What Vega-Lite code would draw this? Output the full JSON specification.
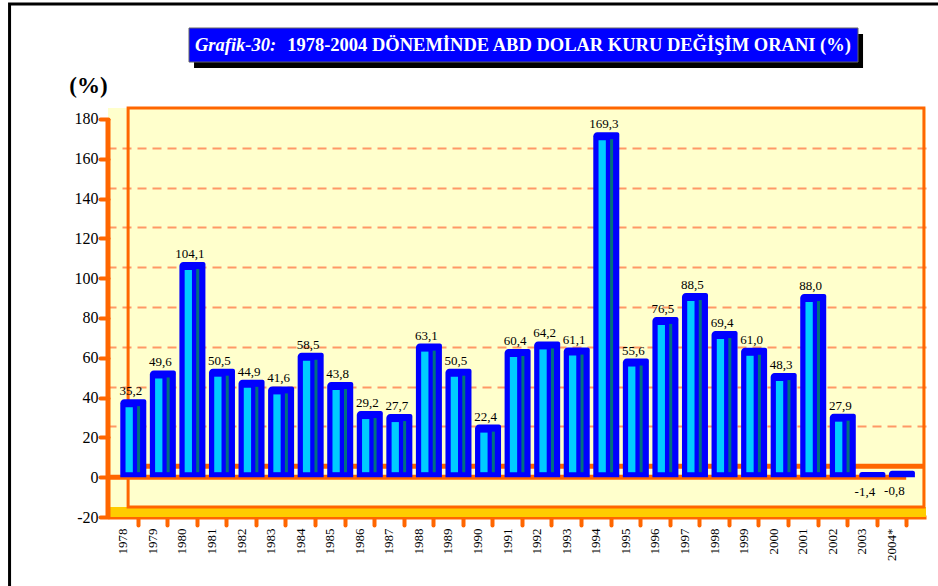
{
  "$schema": "https://vega.github.io/schema/vega-lite/v6.json",
  "width": 818,
  "height": 489,
  "autosize": {"type": "none"},
  "padding": {"left": 108, "top": 28, "right": 12, "bottom": 69},
  "background": "white",
  "config": {
    "font": "Liberation Serif",
    "view": {"fill": "#FFFFCC", "stroke": null},
    "locale": {"number": {"decimal": ",", "thousands": ".", "grouping": [3], "currency": ["", ""], "minus": "-"}},
    "text": {"font": "Liberation Serif"},
    "scale": {"continuousPadding": 0},
    "axis": {"labelFont": "Liberation Serif", "titleFont": "Liberation Serif"},
    "axisX": {"labelOverlap": false, "labelFont": "Liberation Serif", "labelFontSize": 13, "labelColor": "black"},
    "axisY": {"labelFont": "Liberation Serif", "labelFontSize": 16, "labelColor": "black"}
  },
  "data": {
    "values": [
      {"year": 1978, "value": 35.2}, {"year": 1979, "value": 49.6}, {"year": 1980, "value": 104.1},
      {"year": 1981, "value": 50.5}, {"year": 1982, "value": 44.9}, {"year": 1983, "value": 41.6},
      {"year": 1984, "value": 58.5}, {"year": 1985, "value": 43.8}, {"year": 1986, "value": 29.2},
      {"year": 1987, "value": 27.7}, {"year": 1988, "value": 63.1}, {"year": 1989, "value": 50.5},
      {"year": 1990, "value": 22.4}, {"year": 1991, "value": 60.4}, {"year": 1992, "value": 64.2},
      {"year": 1993, "value": 61.1}, {"year": 1994, "value": 169.3}, {"year": 1995, "value": 55.6},
      {"year": 1996, "value": 76.5}, {"year": 1997, "value": 88.5}, {"year": 1998, "value": 69.4},
      {"year": 1999, "value": 61.0}, {"year": 2000, "value": 48.3}, {"year": 2001, "value": 88.0},
      {"year": 2002, "value": 27.9}, {"year": 2003, "value": -1.4}, {"year": 2004, "value": -0.8}
    ]
  },
  "resolve": {"scale": {"y": "independent"}},
  "layer": [
    {
      "data": {"values": [{}]},
      "mark": {"type": "rule", "opacity": 0},
      "encoding": {
        "y": {"datum": 0, "type": "quantitative",
          "scale": {"domain": [-25.5, 220.2], "nice": false, "zero": false},
          "axis": {"orient": "right", "grid": true, "values": [20, 40, 60, 80, 100, 120, 140, 160],
            "labels": false, "ticks": false, "domain": false, "title": null,
            "gridDash": [9, 6], "gridColor": "#FF9966", "gridWidth": 2, "gridOpacity": 1}}
      }
    },
    {
      "layer": [
        {
          "mark": {"type": "rect", "fill": "white"},
          "encoding": {
            "x": {"field": "year", "type": "quantitative",
              "scale": {"domain": [1977.5, 2005.17], "nice": false, "zero": false, "padding": 0},
              "axis": {"values": [1978, 1979, 1980, 1981, 1982, 1983, 1984, 1985, 1986, 1987, 1988, 1989, 1990, 1991, 1992, 1993, 1994, 1995, 1996, 1997, 1998, 1999, 2000, 2001, 2002, 2003, 2004],
                "tickCount": 27, "tickMinStep": 1,
                "labelExpr": "datum.value == 2004 ? '2004*' : (datum.value > 2004 ? '' : '' + datum.value)",
                "labelAngle": 270, "labelPadding": 3, "labelOverlap": false, "labelBound": false, "labelFlush": false,
                "labelFont": "Liberation Serif", "labelFontSize": 13,
                "tickColor": "#FF6600", "tickWidth": 4, "tickSize": 8, "tickCap": "round", "tickOffset": 14.8, "labelOffset": -14.8,
                "domainColor": "#FF6600", "domainWidth": 4, "grid": false, "title": null}},
            "y": {"datum": 185.5, "type": "quantitative", "scale": {"domain": [-20, 225.7], "nice": false, "zero": false},
              "axis": {"orient": "left", "values": [-20, 0, 20, 40, 60, 80, 100, 120, 140, 160, 180],
                "domain": false, "grid": false, "format": "d",
                "labelFont": "Liberation Serif", "labelFontSize": 16,
                "tickColor": "#FF6600", "tickWidth": 4, "tickSize": 8, "tickCap": "round", "labelPadding": 2,
                "title": "(%)", "titleAngle": 0, "titleFont": "Liberation Serif", "titleFontSize": 23, "titleFontWeight": "bold",
                "titleColor": "black", "titleX": -20, "titleY": 57, "titleAlign": "center", "titleBaseline": "middle"}},
            "y2": {"datum": 226}
          },
          "transform": [{"filter": "datum.year == 1978"}]
        },
        {
          "data": {"values": [{}]},
          "mark": {"type": "rect", "fill": "white"},
          "encoding": {
            "x": {"datum": 1977.5, "type": "quantitative"},
            "x2": {"datum": 2005.17},
            "y": {"datum": 185.5, "type": "quantitative"},
            "y2": {"datum": 226}
          }
        },
        {
          "data": {"values": [{}]},
          "mark": {"type": "rect", "fill": "#FFCC00"},
          "encoding": {
            "x": {"datum": 1977.5, "type": "quantitative"},
            "x2": {"datum": 2005.17},
            "y": {"datum": -20, "type": "quantitative"},
            "y2": {"datum": -15}
          }
        },
        {
          "data": {"values": [{}]},
          "mark": {"type": "rect", "fill": null, "fillOpacity": 0, "stroke": "#FF6600", "strokeWidth": 3},
          "encoding": {
            "x": {"datum": 1978.18, "type": "quantitative"},
            "x2": {"datum": 2005.1},
            "y": {"datum": -15, "type": "quantitative"},
            "y2": {"datum": 185.5}
          }
        },
        {
          "data": {"values": [{}]},
          "mark": {"type": "rule", "stroke": "#FF6600", "strokeWidth": 5},
          "encoding": {
            "x": {"datum": 1978.18, "type": "quantitative"},
            "x2": {"datum": 2005.1},
            "y": {"datum": 5.5, "type": "quantitative"}
          }
        },
        {
          "data": {"values": [{}]},
          "mark": {"type": "rule", "stroke": "#FF6600", "strokeWidth": 5},
          "encoding": {
            "x": {"datum": 1977.5, "type": "quantitative"},
            "x2": {"datum": 2004.5},
            "y": {"datum": 0, "type": "quantitative"}
          }
        },
        {
          "data": {"values": [{}]},
          "mark": {"type": "rule", "stroke": "#FF6600", "strokeWidth": 5},
          "encoding": {
            "x": {"datum": 1977.5, "type": "quantitative"},
            "y": {"datum": -20, "type": "quantitative"},
            "y2": {"datum": 180}
          }
        },
        {
          "mark": {"type": "bar", "width": 26, "xOffset": 10.5, "yOffset": -8, "fill": "#0000FF", "cornerRadiusTopLeft": 4, "cornerRadiusTopRight": 2},
          "encoding": {
            "x": {"field": "year", "type": "quantitative"},
            "y": {"field": "value", "type": "quantitative"},
            "y2": {"datum": 0}
          }
        },
        {
          "transform": [{"filter": "datum.value > 0"}],
          "mark": {"type": "bar", "width": 7.3, "xOffset": 6.4, "y2Offset": -5, "fill": "#00CCFF"},
          "encoding": {
            "x": {"field": "year", "type": "quantitative"},
            "y": {"field": "value", "type": "quantitative"},
            "y2": {"datum": 0}
          }
        },
        {
          "transform": [{"filter": "datum.value > 0"}],
          "mark": {"type": "bar", "width": 3, "xOffset": 15.8, "yOffset": -1, "y2Offset": -5, "fill": "#007080"},
          "encoding": {
            "x": {"field": "year", "type": "quantitative"},
            "y": {"field": "value", "type": "quantitative"},
            "y2": {"datum": 0}
          }
        },
        {
          "transform": [{"filter": "datum.value >= 0"}],
          "mark": {"type": "text", "dx": 8, "dy": -12, "baseline": "alphabetic", "align": "center", "fontSize": 13, "font": "Liberation Serif", "color": "black"},
          "encoding": {
            "x": {"field": "year", "type": "quantitative"},
            "y": {"field": "value", "type": "quantitative"},
            "text": {"field": "value", "type": "quantitative", "format": ".1f"}
          }
        },
        {
          "transform": [{"filter": "datum.value < 0"}],
          "mark": {"type": "text", "dx": 3, "dy": 6, "baseline": "top", "align": "center", "fontSize": 13, "font": "Liberation Serif", "color": "black"},
          "encoding": {
            "x": {"field": "year", "type": "quantitative"},
            "y": {"field": "value", "type": "quantitative"},
            "text": {"field": "value", "type": "quantitative", "format": ".1f"}
          }
        },
        {
          "data": {"values": [{}]},
          "mark": {"type": "rect", "fill": "black"},
          "encoding": {
            "x": {"datum": 1980.41, "type": "quantitative"},
            "x2": {"datum": 2003.04},
            "y": {"datum": 205.6, "type": "quantitative"},
            "y2": {"datum": 222.7}
          }
        },
        {
          "data": {"values": [{}]},
          "mark": {"type": "rect", "fill": "#0000FF", "stroke": "#666666", "strokeWidth": 1},
          "encoding": {
            "x": {"datum": 1980.24, "type": "quantitative"},
            "x2": {"datum": 2002.87},
            "y": {"datum": 208.6, "type": "quantitative"},
            "y2": {"datum": 225.7}
          }
        },
        {
          "data": {"values": [{"t": "Grafik-30:"}]},
          "mark": {"type": "text", "align": "left", "baseline": "middle", "font": "Liberation Serif", "fontSize": 18.5, "fontStyle": "italic", "fontWeight": "bold", "color": "white"},
          "encoding": {
            "x": {"datum": 1980.44, "type": "quantitative"},
            "y": {"datum": 217.0, "type": "quantitative"},
            "text": {"field": "t"}
          }
        },
        {
          "data": {"values": [{"t": "1978-2004 DÖNEMİNDE ABD DOLAR KURU DEĞİŞİM ORANI (%)"}]},
          "mark": {"type": "text", "align": "left", "baseline": "middle", "font": "Liberation Serif", "fontSize": 18.5, "fontWeight": "bold", "color": "white"},
          "encoding": {
            "x": {"datum": 1983.56, "type": "quantitative"},
            "y": {"datum": 217.0, "type": "quantitative"},
            "text": {"field": "t"}
          }
        },
        {
          "data": {"values": [{}]},
          "mark": {"type": "rect", "fill": null, "fillOpacity": 0, "stroke": "black", "strokeWidth": 3},
          "encoding": {
            "x": {"datum": 1974.17, "type": "quantitative"},
            "x2": {"datum": 2006.5},
            "y": {"datum": -60, "type": "quantitative"},
            "y2": {"datum": 237.8}
          }
        }
      ]
    }
  ]
}
